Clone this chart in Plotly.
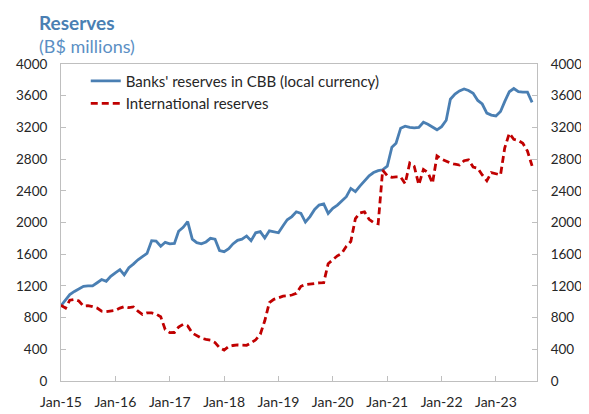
import plotly.graph_objects as go
import pandas as pd

# Monthly data, Jan-2015 .. Sep-2023 (B$ millions)
start_month = '2015-01-01'

banks_reserves = [
    950, 1030, 1090, 1130, 1160, 1195, 1200, 1200, 1240, 1280,
    1258, 1320, 1365, 1405, 1340, 1430, 1475, 1530, 1570, 1610,
    1770, 1765, 1700, 1750, 1730, 1735, 1890, 1940, 2010, 1790,
    1745, 1730, 1755, 1800, 1790, 1645, 1632, 1670, 1730, 1775,
    1790, 1830, 1770, 1870, 1885, 1805, 1895, 1885, 1870, 1960,
    2035, 2075, 2135, 2115, 2005, 2075, 2165, 2220, 2235, 2115,
    2180, 2220, 2265, 2325, 2430, 2390, 2460, 2530, 2590, 2630,
    2655, 2665, 2710, 2950, 3000, 3190, 3215, 3200, 3195, 3200,
    3265, 3240, 3200, 3170, 3210, 3290, 3555, 3620, 3660, 3685,
    3665, 3630, 3540, 3495, 3380, 3355, 3345, 3400, 3525, 3650,
    3690, 3650, 3645, 3645, 3515,
]

intl_reserves = [
    955, 920, 1020, 1030, 1010, 945, 950, 940, 920, 880,
    875, 878, 890, 920, 938, 925, 935, 880, 840, 860,
    860, 845, 810, 650, 610, 612, 680, 715, 695, 605,
    570, 540, 525, 515, 485, 420, 390, 435, 448, 455,
    452, 450, 480, 520, 590, 760, 990, 1030, 1050, 1070,
    1075, 1085, 1105, 1195, 1215, 1225, 1232, 1238, 1241, 1480,
    1530, 1580, 1610, 1700, 1760, 2050, 2120, 2135, 2040, 2000,
    1985, 2660, 2590, 2570, 2575, 2575, 2490, 2750, 2710, 2475,
    2670, 2630, 2495, 2840, 2800, 2770, 2750, 2735, 2725, 2780,
    2790, 2700, 2685, 2600, 2528, 2630, 2615, 2600, 2940, 3125,
    3050, 3035, 3000, 2900, 2715,
]

months = pd.date_range(start_month, periods=len(banks_reserves), freq='MS')

blue = '#4a7fb3'
red = '#c00000'
axis_grey = '#bfbfbf'
font_family = 'Lato, Open Sans, sans-serif'
x_tick_font = dict(family=font_family, size=14, color='#262626')
y_tick_font = dict(family=font_family, size=13.5, color='#262626')

fig = go.Figure()

fig.add_trace(go.Scatter(
    x=months, y=banks_reserves,
    name="Banks' reserves in CBB (local currency)",
    mode='lines',
    line=dict(color=blue, width=2.8),
))

fig.add_trace(go.Scatter(
    x=months, y=intl_reserves,
    name='International reserves',
    mode='lines',
    line=dict(color=red, width=2.8, dash='7px,4px'),
    yaxis='y2',
))

yaxis_common = dict(
    range=[0, 4000],
    dtick=400,
    tick0=0,
    showgrid=False,
    zeroline=False,
    showline=True,
    linecolor=axis_grey,
    linewidth=1,
    ticks='inside',
    ticklen=5,
    tickcolor=axis_grey,
    tickfont=y_tick_font,
    automargin=False,
    fixedrange=True,
)

# the page adds an 8px body margin, so the figure is a bit smaller than the window
fig.update_layout(
    width=581,
    height=406,
    margin=dict(l=53, r=52, t=56, b=33, autoexpand=False),
    paper_bgcolor='white',
    plot_bgcolor='white',
    font=dict(family=font_family),
    xaxis=dict(
        type='date',
        range=['2015-01-01', '2023-10-04'],
        tick0='2015-01-01',
        dtick='M12',
        tickformat='%b-%y',
        showgrid=False,
        zeroline=False,
        showline=True,
        mirror=True,
        linecolor=axis_grey,
        linewidth=1,
        ticks='inside',
        ticklen=5,
        tickcolor=axis_grey,
        tickfont=x_tick_font,
        ticklabelstandoff=8,
        automargin=False,
    ),
    yaxis=dict(side='left', ticklabelstandoff=10, **yaxis_common),
    yaxis2=dict(side='right', overlaying='y', ticklabelstandoff=10, **yaxis_common),
    legend=dict(
        x=0.052, y=0.998,
        xanchor='left', yanchor='top',
        bgcolor='rgba(0,0,0,0)',
        font=dict(family=font_family, size=15, color='#262626'),
        tracegroupgap=0,
        itemwidth=30,
    ),
    annotations=[
        dict(
            text='<b>Reserves</b>',
            xref='paper', yref='paper',
            x=-0.05, y=1.175,
            xanchor='left', yanchor='top',
            showarrow=False,
            font=dict(family=font_family, size=19, color='#4a7fb3'),
        ),
        dict(
            text='(B$ millions)',
            xref='paper', yref='paper',
            x=-0.05, y=1.058,
            xanchor='left', yanchor='middle',
            showarrow=False,
            font=dict(family=font_family, size=18, color='#5b8fc4'),
        ),
    ],
)

fig.write_html('out.html')
